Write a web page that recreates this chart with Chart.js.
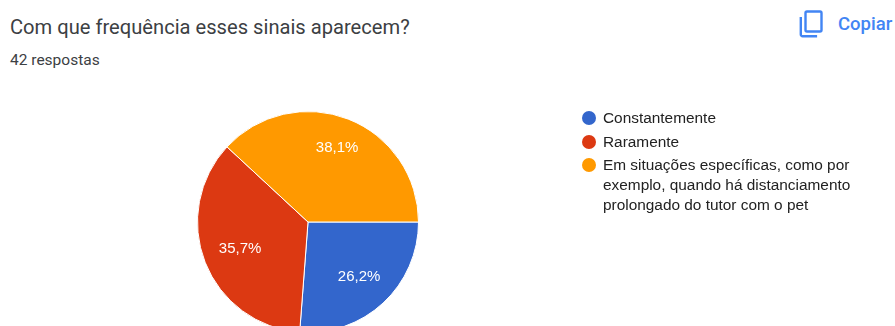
<!DOCTYPE html>
<html lang="pt-BR">
<head>
<meta charset="utf-8">
<title>Com que frequência esses sinais aparecem?</title>
<script src="https://cdn.jsdelivr.net/npm/chart.js@4/dist/chart.umd.min.js"></script>
<style>
  html, body { margin: 0; padding: 0; background: #fff; }
  body { position: relative; width: 895px; height: 326px; overflow: hidden; font-family: Roboto, sans-serif; }
  #pieChart { position: absolute; left: 0; top: 0; }
  .title { position: absolute; left: 10px; top: 15px; font-size: 20.15px; line-height: 24px; color: #3c4043; white-space: nowrap; }
  .answers { position: absolute; left: 10px; top: 51px; font-size: 15.5px; line-height: 18px; color: #3c4043; white-space: nowrap; }
  .copy { position: absolute; left: 799px; top: 10px; width: 24px; height: 28px; }
  .copyLabel { position: absolute; left: 838px; top: 14px; font-size: 18.5px; line-height: 20px; font-weight: 500; color: #4285f4; white-space: nowrap; }
  #legend { position: absolute; left: 581px; top: 108px; width: 275px; font-family: "Liberation Sans", Arial, sans-serif; }
  .item { position: relative; padding-left: 22px; font-size: 15.4px; line-height: 20px; margin-bottom: 3.6px; color: #222222; }
  .dot { position: absolute; left: 1px; top: 3px; width: 14px; height: 14px; border-radius: 50%; }
</style>
</head>
<body>
<div class="title">Com que frequência esses sinais aparecem?</div>
<div class="answers">42 respostas</div>
<svg class="copy" viewBox="0 0 24 28" fill="none" stroke="#4285f4" stroke-width="2.4">
  <rect x="6.5" y="1.5" width="16" height="20" rx="1.5"></rect>
  <path d="M1.8 7v17.5a1.8 1.8 0 0 0 1.8 1.8h14.5"></path>
</svg>
<div class="copyLabel">Copiar</div>
<canvas id="pieChart" width="895" height="340"></canvas>
<div id="legend"></div>

<script>
const categories = [
  'Constantemente',
  'Raramente',
  'Em situações específicas, como por exemplo, quando há distanciamento prolongado do tutor com o pet'
];
const percentages = [26.2, 35.7, 38.1];
const sliceColors = ['#3366cc', '#dc3912', '#ff9900'];

// how far out each percentage sits, as a share of the radius
const labelReach = [0.68, 0.66, 0.72];

// writes the percentage inside each slice, with a comma as decimal mark
const sliceLabels = {
  id: 'sliceLabels',
  afterDatasetsDraw(chart) {
    const ctx = chart.ctx;
    const arcs = chart.getDatasetMeta(0).data;
    ctx.save();
    ctx.font = '15px "Liberation Sans", Arial, sans-serif';
    ctx.fillStyle = '#ffffff';
    ctx.textAlign = 'center';
    ctx.textBaseline = 'middle';
    arcs.forEach((arc, i) => {
      const mid = (arc.startAngle + arc.endAngle) / 2;
      const dist = arc.outerRadius * labelReach[i];
      const text = percentages[i].toFixed(1).replace('.', ',') + '%';
      ctx.fillText(text, arc.x + Math.cos(mid) * dist, arc.y + Math.sin(mid) * dist);
    });
    ctx.restore();
  }
};

new Chart(document.getElementById('pieChart').getContext('2d'), {
  type: 'pie',
  data: {
    labels: categories,
    datasets: [{
      data: percentages,
      backgroundColor: sliceColors,
      borderColor: '#ffffff',
      borderWidth: 1
    }]
  },
  options: {
    responsive: false,
    animation: false,
    rotation: 90,
    layout: { padding: { left: 197, right: 476, top: 111, bottom: 7 } },
    plugins: {
      legend: { display: false },
      tooltip: { enabled: false }
    }
  },
  plugins: [sliceLabels]
});

// legend sits in the page so the long label can wrap
const legend = document.getElementById('legend');
categories.forEach((name, i) => {
  const item = document.createElement('div');
  item.className = 'item';
  const dot = document.createElement('span');
  dot.className = 'dot';
  dot.style.background = sliceColors[i];
  item.appendChild(dot);
  item.appendChild(document.createTextNode(name));
  legend.appendChild(item);
});
</script>
</body>
</html>
